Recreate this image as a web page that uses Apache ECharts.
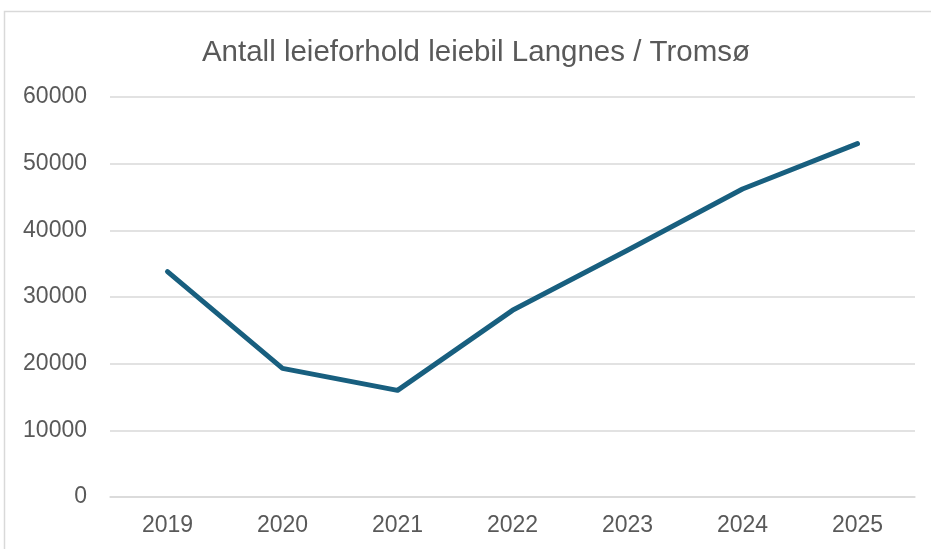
<!DOCTYPE html>
<html>
<head>
<meta charset="utf-8">
<script src="https://cdn.jsdelivr.net/npm/echarts@6/dist/echarts.min.js"></script>
<style>
  html, body { margin: 0; padding: 0; background: #fff; }
  #chart { width: 931px; height: 549px; }
</style>
</head>
<body>
<div id="chart"></div>
<script>
// data
var years = ['2019', '2020', '2021', '2022', '2023', '2024', '2025']
var rentals = [33800, 19300, 16000, 28000, 37000, 46200, 53000]
var titleText = 'Antall leieforhold leiebil Langnes / Tromsø'

var chart = echarts.init(document.getElementById('chart'))
var font = '"Liberation Sans", Arial, sans-serif'

chart.setOption({
  animation: false,
  backgroundColor: '#fff',
  graphic: [{
    type: 'rect',
    shape: { x: 4.5, y: 11.5, width: 1000, height: 1000 },
    style: { fill: 'none', stroke: '#d9d9d9', lineWidth: 1.5 },
    silent: true
  }],
  title: {
    text: titleText,
    left: 471,
    textAlign: 'center',
    top: 33,
    textStyle: { fontFamily: font, fontSize: 29.5, fontWeight: 'normal', color: '#595959' }
  },
  grid: { left: 110, right: 16, top: 97, bottom: 52, containLabel: false },
  xAxis: {
    type: 'category',
    data: years,
    boundaryGap: true,
    axisLine: { show: true, lineStyle: { color: '#d9d9d9', width: 1.5 } },
    axisTick: { show: false },
    axisLabel: { margin: 17, fontFamily: font, fontSize: 23, color: '#595959' }
  },
  yAxis: {
    type: 'value',
    min: 0,
    max: 60000,
    interval: 10000,
    axisLine: { show: false },
    axisTick: { show: false },
    axisLabel: {
      margin: 23, fontFamily: font, fontSize: 23, color: '#595959',
      formatter: function (v) { return String(v) }
    },
    splitLine: { lineStyle: { color: '#d9d9d9', width: 1.5 } }
  },
  series: [{
    type: 'line',
    data: rentals,
    showSymbol: false,
    lineStyle: { color: '#185f7f', width: 5, cap: 'round', join: 'round' }
  }]
})
</script>
</body>
</html>
